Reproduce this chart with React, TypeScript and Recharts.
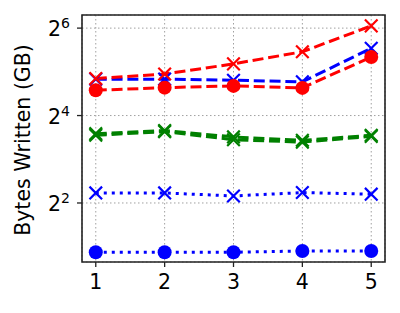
import { LineChart, Line, XAxis, YAxis, CartesianGrid, ReferenceArea } from "recharts";

const steps = [1, 2, 3, 4, 5];
const redCross = [28.8, 30.9, 36.3, 44.0, 66.3];
const blueCross = [28.5, 28.5, 28.0, 27.3, 46.5];
const redDot = [23.9, 24.9, 25.6, 24.8, 40.5];
const greenCrossA = [12.0, 12.6, 11.4, 10.8, 11.7];
const greenCrossB = [11.7, 12.4, 10.9, 10.5, 11.5];
const blueCrossDotted = [4.69, 4.69, 4.47, 4.72, 4.6];
const blueDotDotted = [1.83, 1.83, 1.83, 1.87, 1.87];
const yTicks = [4, 16, 64];
const yExps = ["2", "4", "6"];

const X_MIN = 0.8, X_MAX = 5.2;
const Y_MIN = Math.pow(2, 0.65), Y_MAX = Math.pow(2, 6.3);

const rows = steps.map((s, i) => ({
  s,
  redCross: redCross[i],
  blueCross: blueCross[i],
  redDot: redDot[i],
  greenA: greenCrossA[i],
  greenB: greenCrossB[i],
  blueCrossDotted: blueCrossDotted[i],
  blueDotDotted: blueDotDotted[i],
}));

const FONT = "DejaVu Sans, sans-serif";

const cross = (color: string) => (p: any) => {
  const { cx, cy, index } = p;
  const r = 6.3;
  return (
    <path key={index} d={`M${cx - r},${cy - r}L${cx + r},${cy + r}M${cx - r},${cy + r}L${cx + r},${cy - r}`}
      stroke={color} strokeWidth={2.2} fill="none" />
  );
};

const dot = (color: string) => (p: any) => (
  <circle key={p.index} cx={p.cx} cy={p.cy} r={7} fill={color} stroke="none" />
);

const PowTick = (p: any) => {
  const { x, y, payload } = p;
  const i = yTicks.indexOf(payload.value);
  return (
    <text x={x} y={y + 8} textAnchor="end" fontFamily={FONT} fontSize={20.5} fill="#000">
      <tspan>2</tspan>
      <tspan dy={-8} fontSize={14}>{yExps[i]}</tspan>
    </text>
  );
};

const DASH = "11 4.8";
const DOT = "3 5";

export default function App() {
  return (
    <div style={{ position: "absolute", left: 0, top: 0, width: 400, height: 313, background: "#fff" }}>
      <LineChart width={400} height={313} data={rows} margin={{ top: 15, right: 15, left: 0, bottom: 0 }}>
        <CartesianGrid stroke="#a0a0a0" strokeDasharray="1.5 2.5" strokeWidth={1} />
        <XAxis dataKey="s" type="number" domain={[X_MIN, X_MAX]} ticks={steps} allowDataOverflow
          height={51} tickSize={5} tickMargin={7} axisLine={false} tickLine={{ stroke: "#222", strokeWidth: 1.3 }}
          tick={{ fill: "#000", fontSize: 20.5, fontFamily: FONT }} />
        <YAxis scale="log" domain={[Y_MIN, Y_MAX]} ticks={yTicks} allowDataOverflow width={82}
          tickSize={5} tickMargin={7} axisLine={false} tickLine={{ stroke: "#222", strokeWidth: 1.3 }}
          tick={<PowTick />} />
        <Line dataKey="blueDotDotted" stroke="#0000ff" strokeWidth={3} strokeDasharray={DOT} dot={dot("#0000ff")} isAnimationActive={false} />
        <Line dataKey="blueCrossDotted" stroke="#0000ff" strokeWidth={3} strokeDasharray={DOT} dot={cross("#0000ff")} isAnimationActive={false} />
        <Line dataKey="greenA" stroke="#008000" strokeWidth={3} strokeDasharray={DASH} dot={cross("#008000")} isAnimationActive={false} />
        <Line dataKey="greenB" stroke="#008000" strokeWidth={3} strokeDasharray={DASH} dot={cross("#008000")} isAnimationActive={false} />
        <Line dataKey="blueCross" stroke="#0000ff" strokeWidth={3} strokeDasharray={DASH} dot={cross("#0000ff")} isAnimationActive={false} />
        <Line dataKey="redDot" stroke="#ff0000" strokeWidth={3} strokeDasharray={DASH} dot={dot("#ff0000")} isAnimationActive={false} />
        <Line dataKey="redCross" stroke="#ff0000" strokeWidth={3} strokeDasharray={DASH} dot={cross("#ff0000")} isAnimationActive={false} />
        <ReferenceArea x1={X_MIN} x2={X_MAX} y1={Y_MIN} y2={Y_MAX} fill="none" stroke="#222" strokeWidth={1.6} strokeOpacity={1} ifOverflow="visible" />
      </LineChart>
      <div style={{
        position: "absolute", left: 23, top: 140, transform: "translate(-50%, -50%) rotate(-90deg)",
        fontFamily: FONT, fontSize: 20.5, whiteSpace: "nowrap", color: "#000",
      }}>Bytes Written (GB)</div>
    </div>
  );
}
